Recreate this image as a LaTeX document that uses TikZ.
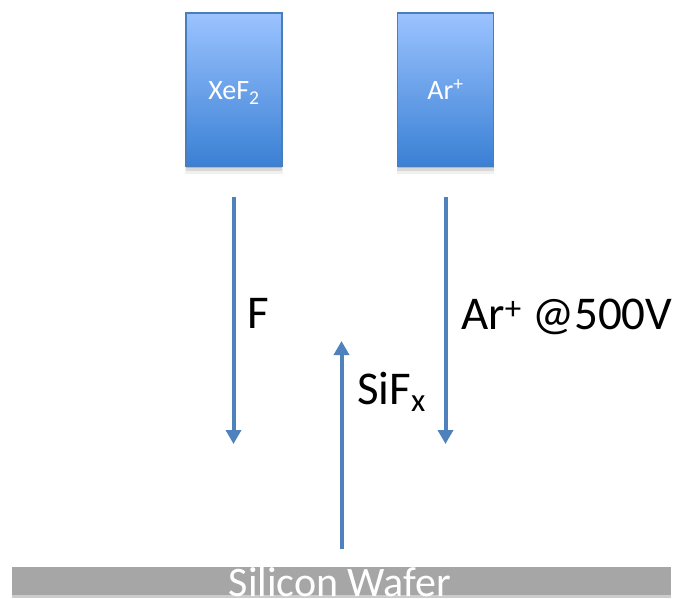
\documentclass[tikz,border=0pt]{standalone}
\usepackage{fontspec}
\setmainfont{Carlito}
\usetikzlibrary{arrows.meta,shadows}
\definecolor{boxtop}{RGB}{155,195,255}
\definecolor{boxbot}{RGB}{58,128,212}
\definecolor{boxedge}{RGB}{74,126,187}
\definecolor{arrowblue}{RGB}{79,129,189}
\definecolor{wafergray}{RGB}{166,166,166}
\tikzset{
  softshadow/.style={
    drop shadow={shadow xshift=0pt, shadow yshift=-2pt, opacity=0.15, fill=black},
    drop shadow={shadow xshift=0pt, shadow yshift=-4pt, shadow scale=1.01, opacity=0.10, fill=black},
    drop shadow={shadow xshift=0pt, shadow yshift=-6pt, shadow scale=1.02, opacity=0.06, fill=black}},
  srcbox/.style={rectangle, draw=boxedge, line width=1.2pt, top color=boxtop, bottom color=boxbot,
    minimum width=96pt, minimum height=153pt, inner sep=0pt, softshadow},
  boxlabel/.style={text=white, font=\fontsize{28}{30}\selectfont, anchor=base, inner sep=0pt},
  flow/.style={draw=arrowblue, line width=4pt, -{Triangle[width=15pt,length=14pt]}},
  biglabel/.style={text=black, font=\fontsize{47}{52}\selectfont, anchor=base west, inner sep=0pt},
}
\begin{document}
\begin{tikzpicture}[x=1pt,y=-1pt]
\useasboundingbox (0,0) rectangle (681,599);
% source boxes
\node[srcbox] (xef2) at (234,89.5) {};
\node[srcbox] (arsrc) at (445.5,89.5) {};
\node[boxlabel] (xef2lab) at (234,100) {XeF\textsubscript{2}};
\node[boxlabel] (arsrclab) at (445.5,100) {Ar\textsuperscript{+}};
% wafer
\begin{scope}
\clip (0,0) rectangle (681,599);
\node[rectangle, fill=wafergray, minimum width=659pt, minimum height=28pt, inner sep=0pt,
  drop shadow={shadow xshift=0pt, shadow yshift=-3pt, opacity=0.2, fill=black}] (wafer) at (341.5,581) {};
\node[text=white, font=\fontsize{42}{46}\selectfont, anchor=base, inner sep=0pt] (waferlab) at (340,596) {Silicon Wafer};
\end{scope}
% arrow end points
\coordinate (fstart) at (233.5,197);
\coordinate (fend) at (233.5,444);
\coordinate (arstart) at (445.5,197);
\coordinate (arend) at (445.5,444);
\coordinate (sistart) at (341.5,549);
\coordinate (siend) at (341.5,341);
\draw[flow] (fstart) -- (fend);
\draw[flow] (arstart) -- (arend);
\draw[flow] (sistart) -- (siend);
% labels
\node[biglabel] (flab) at (247,328) {F};
\node[biglabel] (arlab) at (461,329) {Ar\textsuperscript{+} @500V};
\node[biglabel] (silab) at (357,404) {SiF\textsubscript{x}};
\end{tikzpicture}
\end{document}
